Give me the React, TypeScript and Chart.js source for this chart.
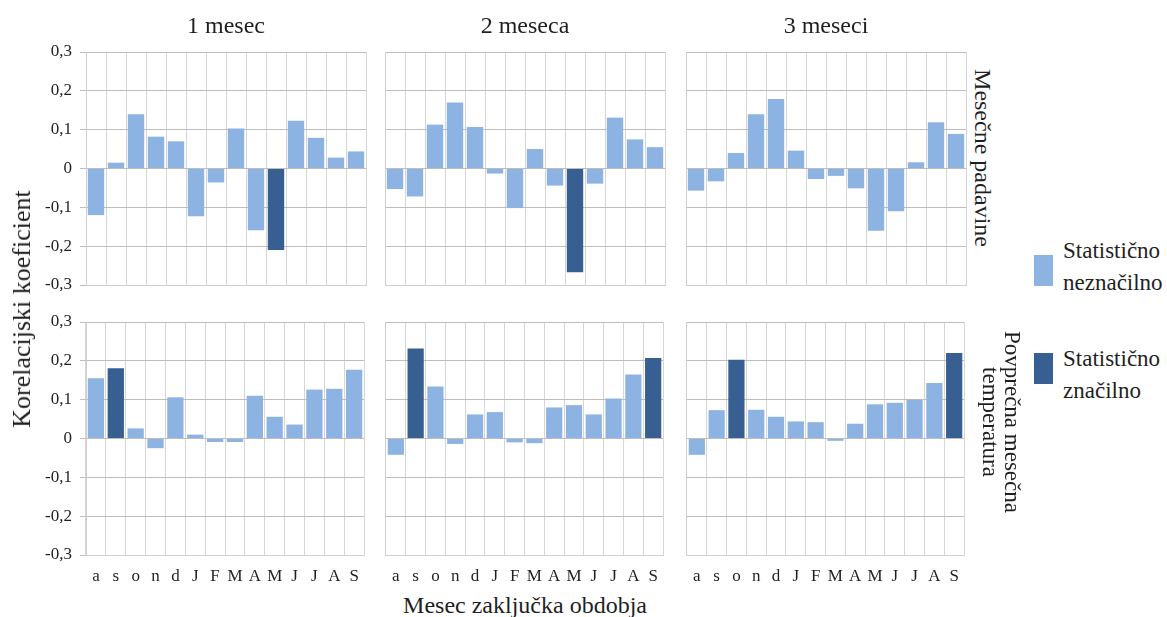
import React, { useEffect, useRef } from "react";
import { Chart, registerables } from "chart.js";

Chart.register(...registerables);

// Month at the end of the aggregation period
const MONTHS = ["a", "s", "o", "n", "d", "J", "F", "M", "A", "M", "J", "J", "A", "S"];

const COLUMN_TITLES = ["1 mesec", "2 meseca", "3 meseci"];
const ROW_TITLE_PRECIP = ["Mesečne padavine"];
const ROW_TITLE_TEMP = ["Povprečna mesečna", "temperatura"];
const Y_TITLE = "Korelacijski koeficient";
const X_TITLE = "Mesec zaključka obdobja";
const LEGEND_LABELS = [
  ["Statistično", "neznačilno"],
  ["Statistično", "značilno"],
];

// Correlation coefficients – monthly precipitation
const PRECIP_1 = [-0.12, 0.015, 0.14, 0.082, 0.07, -0.123, -0.036, 0.103, -0.159, -0.21, 0.123, 0.079, 0.028, 0.044];
const PRECIP_2 = [-0.053, -0.072, 0.113, 0.17, 0.107, -0.013, -0.102, 0.05, -0.044, -0.267, -0.039, 0.131, 0.075, 0.055];
const PRECIP_3 = [-0.057, -0.033, 0.04, 0.14, 0.179, 0.046, -0.027, -0.019, -0.051, -0.16, -0.11, 0.016, 0.119, 0.089];

// Correlation coefficients – mean monthly temperature
const TEMP_1 = [0.155, 0.181, 0.026, -0.025, 0.106, 0.01, -0.009, -0.009, 0.11, 0.056, 0.036, 0.126, 0.128, 0.177];
const TEMP_2 = [-0.042, 0.232, 0.134, -0.014, 0.062, 0.068, -0.01, -0.012, 0.08, 0.086, 0.062, 0.103, 0.165, 0.207];
const TEMP_3 = [-0.042, 0.073, 0.203, 0.074, 0.056, 0.044, 0.042, -0.006, 0.038, 0.088, 0.092, 0.1, 0.143, 0.22];

// Indices of statistically significant coefficients
const SIG_PRECIP_1 = [9];
const SIG_PRECIP_2 = [9];
const SIG_PRECIP_3: number[] = [];
const SIG_TEMP_1 = [1];
const SIG_TEMP_2 = [1, 13];
const SIG_TEMP_3 = [2, 13];

const Y_MIN = -0.3;
const Y_MAX = 0.3;
const Y_STEP = 0.1;

const LIGHT = "#8DB3E2";
const DARK = "#375F92";
const FONT = "Liberation Serif";
const TEXT = "#1f1f1f";

const PLOT_W = 280;
const PLOT_H = 233;
const COL_LEFT = [86, 385, 686];
const ROW_TOP = [52, 322];

type PanelProps = {
  values: number[];
  sig: number[];
  left: number;
  top: number;
  showY: boolean;
  showX: boolean;
};

function Panel({ values, sig, left, top, showY, showX }: PanelProps) {
  const ref = useRef<HTMLCanvasElement | null>(null);
  const padL = showY ? 60 : 4;
  const padT = 22;
  const padR = 4;
  const padB = showX ? 36 : 22;
  const w = padL + PLOT_W + padR;
  const h = padT + PLOT_H + padB;

  useEffect(() => {
    if (!ref.current) return;
    const colors = values.map((_, i) => (sig.includes(i) ? DARK : LIGHT));
    const chart = new Chart(ref.current, {
      type: "bar",
      data: {
        labels: MONTHS,
        datasets: [
          {
            data: values,
            backgroundColor: colors,
            borderWidth: 0,
            categoryPercentage: 1,
            barPercentage: 0.82,
          },
        ],
      },
      options: {
        responsive: false,
        animation: false,
        devicePixelRatio: 1,
        layout: { padding: { top: padT, right: padR, left: 0, bottom: 0 } },
        plugins: { legend: { display: false }, tooltip: { enabled: false } },
        scales: {
          x: {
            grid: { color: "#D6D6D6", lineWidth: 1, drawTicks: false, offset: true },
            border: { color: "#CFCFCF" },
            ticks: {
              display: showX,
              padding: 11,
              color: TEXT,
              font: { family: FONT, size: 17 },
              maxRotation: 0,
              autoSkip: false,
            },
            afterFit: (scale: any) => {
              scale.height = padB;
            },
          },
          y: {
            min: Y_MIN,
            max: Y_MAX,
            grid: {
              color: "#BDBDBD",
              lineWidth: 1,
              drawTicks: showY,
              tickLength: 6,
            },
            border: { color: "#CFCFCF" },
            ticks: {
              display: showY,
              stepSize: Y_STEP,
              padding: 8,
              color: TEXT,
              font: { family: FONT, size: 17 },
              callback: (v: any) => {
                const n = Math.round(Number(v) * 10) / 10;
                return n === 0 ? "0" : n.toFixed(1).replace(".", ",");
              },
            },
            afterFit: (scale: any) => {
              scale.width = padL;
            },
          },
        },
      },
    });
    return () => chart.destroy();
  }, [values, sig, showX, showY]);

  return (
    <canvas
      ref={ref}
      width={w}
      height={h}
      style={{ position: "absolute", left: left - padL, top: top - padT, width: w, height: h }}
    />
  );
}

const textBase: React.CSSProperties = {
  position: "absolute",
  fontFamily: FONT,
  color: TEXT,
  whiteSpace: "nowrap",
  lineHeight: 1,
};

export default function App() {
  const panels = [
    [PRECIP_1, SIG_PRECIP_1],
    [PRECIP_2, SIG_PRECIP_2],
    [PRECIP_3, SIG_PRECIP_3],
    [TEMP_1, SIG_TEMP_1],
    [TEMP_2, SIG_TEMP_2],
    [TEMP_3, SIG_TEMP_3],
  ] as [number[], number[]][];

  return (
    <div
      style={{
        position: "fixed",
        left: 0,
        top: 0,
        width: 1167,
        height: 617,
        background: "#fff",
        overflow: "hidden",
      }}
    >
      {panels.map(([vals, sig], i) => {
        const r = Math.floor(i / 3);
        const c = i % 3;
        return (
          <Panel
            key={i}
            values={vals}
            sig={sig}
            left={COL_LEFT[c]}
            top={ROW_TOP[r]}
            showY={c === 0}
            showX={r === 1}
          />
        );
      })}

      {COLUMN_TITLES.map((t, c) => (
        <div
          key={t}
          style={{
            ...textBase,
            fontSize: 24,
            left: COL_LEFT[c] + PLOT_W / 2,
            top: 25,
            transform: "translate(-50%, -50%)",
          }}
        >
          {t}
        </div>
      ))}

      <div
        style={{
          ...textBase,
          fontSize: 26,
          left: 22,
          top: 309,
          transform: "translate(-50%, -50%) rotate(-90deg)",
        }}
      >
        {Y_TITLE}
      </div>

      <div
        style={{
          ...textBase,
          fontSize: 24,
          left: 525,
          top: 605,
          transform: "translate(-50%, -50%)",
        }}
      >
        {X_TITLE}
      </div>

      <div
        style={{
          ...textBase,
          fontSize: 24,
          left: 983,
          top: 158,
          textAlign: "center",
          transform: "translate(-50%, -50%) rotate(90deg)",
        }}
      >
        {ROW_TITLE_PRECIP.map((l) => (
          <div key={l}>{l}</div>
        ))}
      </div>

      <div
        style={{
          ...textBase,
          fontSize: 23,
          lineHeight: "22px",
          left: 1001,
          top: 422,
          textAlign: "center",
          transform: "translate(-50%, -50%) rotate(90deg)",
        }}
      >
        {ROW_TITLE_TEMP.map((l) => (
          <div key={l}>{l}</div>
        ))}
      </div>

      {LEGEND_LABELS.map((lines, i) => {
        const boxTop = i === 0 ? 255 : 353;
        const textTop = i === 0 ? 250 : 358;
        return (
          <React.Fragment key={i}>
            <div
              style={{
                position: "absolute",
                left: 1034,
                top: boxTop,
                width: 19,
                height: 31,
                background: i === 0 ? LIGHT : DARK,
              }}
            />
            {lines.map((l, j) => (
              <div
                key={j}
                style={{
                  ...textBase,
                  fontSize: 23,
                  left: 1063,
                  top: textTop + j * 32,
                  transform: "translateY(-50%)",
                }}
              >
                {l}
              </div>
            ))}
          </React.Fragment>
        );
      })}
    </div>
  );
}
